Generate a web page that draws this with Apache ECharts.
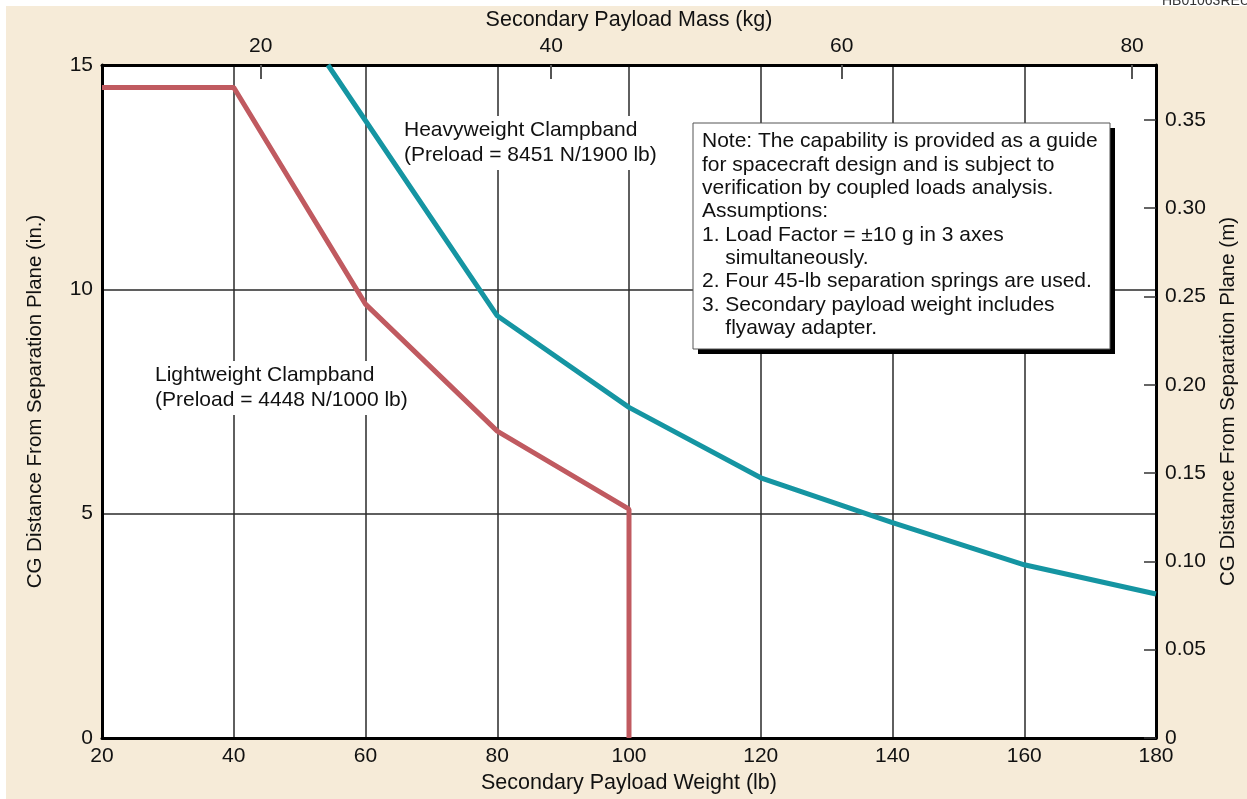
<!DOCTYPE html>
<html>
<head>
<meta charset="utf-8">
<script src="https://cdn.jsdelivr.net/npm/echarts@6/dist/echarts.min.js"></script>
<style>
  html, body { margin: 0; padding: 0; }
  #main { width: 1247px; height: 799px; }
</style>
</head>
<body>
<div id="main"></div>
<script>
// lb -> kg, in -> m
const LB_TO_KG = 0.45359237;
const IN_TO_M = 0.0254;

// lightweight clampband (preload 4448 N / 1000 lb)
const lightLb = [20, 40, 60, 80, 100, 100];
const lightIn = [14.5, 14.5, 9.67, 6.84, 5.1, 0];

// heavyweight clampband (preload 8451 N / 1900 lb)
const heavyLb = [54.3, 80, 100, 120, 140, 160, 180];
const heavyIn = [15, 9.41, 7.37, 5.8, 4.8, 3.86, 3.21];

// axis ticks
const lbTicks = [20, 40, 60, 80, 100, 120, 140, 160, 180];
const inTicks = [0, 5, 10, 15];
const kgTicks = [20, 40, 60, 80];
const mTicks = [0, 0.05, 0.1, 0.15, 0.2, 0.25, 0.3, 0.35];

const noteLines = [
  "Note: The capability is provided as a guide",
  "for spacecraft design and is subject to",
  "verification by coupled loads analysis.",
  "Assumptions:",
  "1. Load Factor = \u00b110 g in 3 axes",
  "    simultaneously.",
  "2. Four 45-lb separation springs are used.",
  "3. Secondary payload weight includes",
  "    flyaway adapter."
];

const FONT = "Liberation Sans";
const txt = "#111";

const myChart = echarts.init(document.getElementById("main"));

function pairs(xs, ys) {
  return xs.map((x, i) => [x, ys[i]]);
}

const option = {
  backgroundColor: "#f6ebd8",
  animation: false,
  textStyle: { fontFamily: FONT },
  grid: {
    left: 102, right: 90, top: 65, bottom: 61,
    show: true, backgroundColor: "#fff", borderWidth: 0
  },
  xAxis: [
    {
      type: "value",
      position: "bottom",
      min: lbTicks[0], max: lbTicks[lbTicks.length - 1], interval: 20,
      name: "Secondary Payload Weight (lb)",
      nameLocation: "middle", nameGap: 30,
      nameTextStyle: { fontSize: 21.5, color: txt, fontFamily: FONT },
      axisLine: { onZero: false, lineStyle: { color: "#000", width: 3 } },
      axisTick: { show: false },
      axisLabel: { fontSize: 21, color: txt, margin: 8, fontFamily: FONT },
      splitLine: { show: true, lineStyle: { color: "#2a2a2a", width: 1.5 } }
    },
    {
      type: "value",
      position: "top",
      min: lbTicks[0] * LB_TO_KG, max: lbTicks[lbTicks.length - 1] * LB_TO_KG,
      name: "Secondary Payload Mass (kg)",
      nameLocation: "middle", nameGap: 32,
      nameTextStyle: { fontSize: 21.5, color: txt, fontFamily: FONT },
      axisLine: { onZero: false, lineStyle: { color: "#000", width: 3 } },
      axisTick: { show: true, inside: true, length: 14, customValues: kgTicks,
                  lineStyle: { color: "#555", width: 2 } },
      axisLabel: { fontSize: 21, color: txt, margin: 8, fontFamily: FONT, customValues: kgTicks },
      splitLine: { show: false }
    }
  ],
  yAxis: [
    {
      type: "value",
      position: "left",
      min: inTicks[0], max: inTicks[inTicks.length - 1], interval: 5,
      name: "CG Distance From Separation Plane (in.)",
      nameLocation: "middle", nameGap: 56, nameRotate: 90,
      nameTextStyle: { fontSize: 20.5, color: txt, fontFamily: FONT },
      axisLine: { show: true, onZero: false, lineStyle: { color: "#000", width: 3 } },
      axisTick: { show: false },
      axisLabel: { fontSize: 21, color: txt, margin: 9, fontFamily: FONT },
      splitLine: { show: true, lineStyle: { color: "#2a2a2a", width: 1.5 } }
    },
    {
      type: "value",
      position: "right",
      min: 0, max: inTicks[inTicks.length - 1] * IN_TO_M,
      name: "CG Distance From Separation Plane (m)",
      nameLocation: "middle", nameGap: 62, nameRotate: 90,
      nameTextStyle: { fontSize: 20.5, color: txt, fontFamily: FONT },
      axisLine: { show: true, onZero: false, lineStyle: { color: "#000", width: 3 } },
      axisTick: { show: true, inside: true, length: 12, customValues: mTicks,
                  lineStyle: { color: "#333", width: 1.5 } },
      axisLabel: {
        fontSize: 21, color: txt, margin: 9, fontFamily: FONT, customValues: mTicks,
        formatter: (v) => (v === 0 ? "0" : v.toFixed(2))
      },
      splitLine: { show: false }
    }
  ],
  series: [
    {
      name: "Lightweight Clampband",
      type: "line",
      xAxisIndex: 0, yAxisIndex: 0,
      data: pairs(lightLb, lightIn),
      showSymbol: false, symbol: "none",
      lineStyle: { color: "#c05a60", width: 5 },
      z: 3
    },
    {
      name: "Heavyweight Clampband",
      type: "line",
      xAxisIndex: 0, yAxisIndex: 0,
      data: pairs(heavyLb, heavyIn),
      showSymbol: false, symbol: "none",
      lineStyle: { color: "#1595a2", width: 5 },
      z: 3
    }
  ],
  graphic: [
    // white margins at top and left edge
    { type: "rect", left: 0, top: 0, shape: { width: 1247, height: 6 }, style: { fill: "#fff" }, z: 1 },
    { type: "rect", left: 0, top: 0, shape: { width: 6, height: 799 }, style: { fill: "#fff" }, z: 1 },
    {
      type: "text", x: 1162, y: -6, z: 2,
      style: { text: "HB01063REU0.3", font: "14px " + FONT, fill: "#333" }
    },
    // curve labels
    {
      type: "text", x: 403, y: 116, z: 10,
      style: {
        text: "Heavyweight Clampband\n(Preload = 8451 N/1900 lb)",
        font: "21px " + FONT, lineHeight: 25, fill: txt,
        backgroundColor: "#fff", padding: [2, 2, 2, 1]
      }
    },
    {
      type: "text", x: 154, y: 361, z: 10,
      style: {
        text: "Lightweight Clampband\n(Preload = 4448 N/1000 lb)",
        font: "21px " + FONT, lineHeight: 25, fill: txt,
        backgroundColor: "#fff", padding: [2, 2, 2, 1]
      }
    },
    // note box
    { type: "rect", x: 698, y: 128, z: 10, shape: { width: 417, height: 226 }, style: { fill: "#000" } },
    { type: "rect", x: 693, y: 123, z: 11, shape: { width: 417, height: 226 },
      style: { fill: "#fff", stroke: "#555", lineWidth: 1 } },
    {
      type: "text", x: 702, y: 130, z: 12,
      style: { text: noteLines.join("\n"), font: "21px " + FONT, lineHeight: 23.3, fill: txt }
    }
  ]
};

myChart.setOption(option);
</script>
</body>
</html>
